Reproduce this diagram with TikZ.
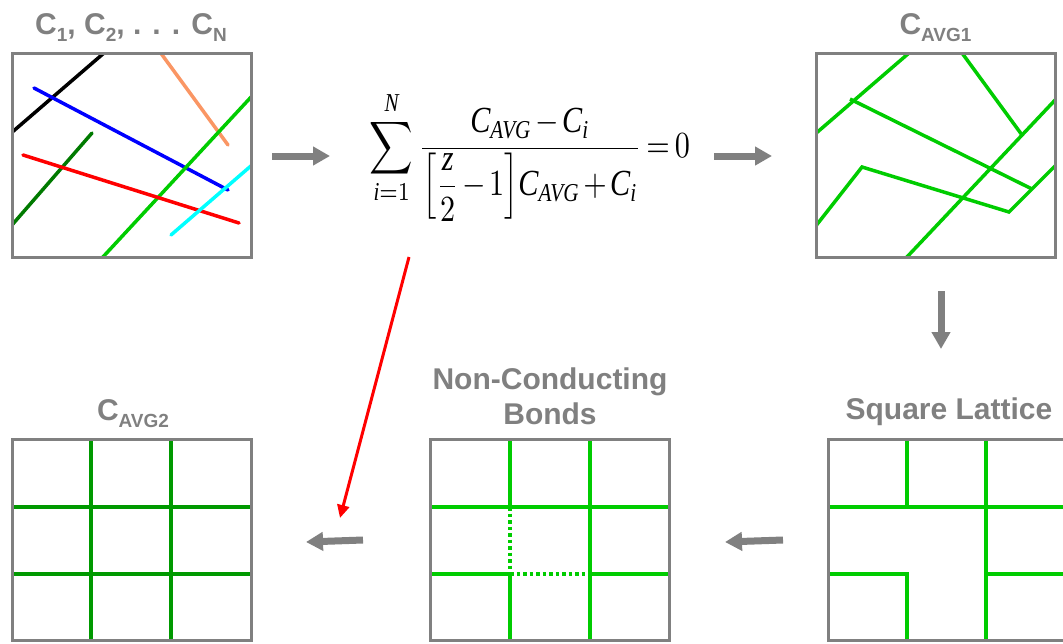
\documentclass[tikz,border=0pt]{standalone}
\usepackage{amsmath}
\usepackage{fontspec}
\setmainfont{Liberation Serif}
\newfontfamily\titlefont{Liberation Sans}
\usetikzlibrary{arrows.meta}
\definecolor{boxgray}{RGB}{128,128,128}
\definecolor{lgreen}{RGB}{0,204,0}
\definecolor{mgreen}{RGB}{0,153,0}
\definecolor{dgreen}{RGB}{0,122,0}
\definecolor{salmon}{RGB}{250,150,100}
\definecolor{cyanline}{RGB}{0,255,255}
\newcommand\tsub[1]{\raisebox{-7pt}{\fontsize{19}{19}\selectfont #1}}
\newcommand\mI[1]{\text{\itshape #1}}
\begin{document}
\begin{tikzpicture}[x=1pt,y=-1pt,
  title/.style={font=\titlefont\bfseries\fontsize{30}{34}\selectfont, text=boxgray, inner sep=0pt, anchor=base},
  frame/.style={draw=boxgray, line width=3pt, minimum width=239pt, minimum height=#1, inner sep=0pt, outer sep=0pt},
  frame/.default=204pt,
  wire/.style={line width=3.5pt},
  grayarrow/.style={draw=boxgray, line width=7pt, -{Triangle[length=17pt,width=18pt]}},
  dotbond/.style={lgreen, line width=3.5pt, dash pattern=on 3.5pt off 3pt}
]
\useasboundingbox (0,0) rectangle (1063,643);
\clip (0,0) rectangle (1063,643);

% ---------- Box 1: C1, C2, ... CN ----------
\node[title] (t1) at (131,34) {C\tsub{1}, C\tsub{2}, . . . C\tsub{N}};
\begin{scope}
  \clip (12,53) rectangle (251,257);
  \draw[wire, black] (10,134) -- (104,53);
  \draw[wire, salmon, line cap=round] (160,52) -- (228,145);
  \draw[wire, blue, line cap=round] (34,88) -- (228,190);
  \draw[wire, lgreen] (102,258) -- (252,96);
  \draw[wire, dgreen, line cap=round] (12,225) -- (92,133);
  \draw[wire, red, line cap=round] (23,155) -- (239,223);
  \draw[wire, cyanline, line cap=round] (171,235) -- (252,165);
\end{scope}
\node[frame] (b1) at (131.5,155) {};

% ---------- Formula ----------
\node[inner sep=0pt] (eq) at (530,156) {\resizebox*{320pt}{130pt}{\medmuskip=2mu\thickmuskip=3mu$\displaystyle
  \sum_{\mI{i}=1}^{\mI{N}}\frac{\mI{C}_{\mI{AVG}}-\mI{C}_{\mI{i}}}{\left[\dfrac{\mI{z}}{2}-1\right]\!\mI{C}_{\mI{AVG}}+\mI{C}_{\mI{i}}}=0$}};

% ---------- Box 2: C_AVG1 ----------
\node[title] (t2) at (935.5,34) {C\tsub{AVG1}};
\begin{scope}
  \clip (816,53) rectangle (1055,257);
  \draw[wire, lgreen] (814,135) -- (909,53);
  \draw[wire, lgreen] (850,99) -- (1032,189);
  \draw[wire, lgreen] (962,53) -- (1022,135);
  \draw[wire, lgreen] (906,258) -- (1057,98);
  \draw[wire, lgreen, line join=miter] (815,227) -- (862,167) -- (1009,212) -- (1057,164);
\end{scope}
\node[frame] (b2) at (935.5,155) {};

% ---------- Bottom left: C_AVG2 ----------
\node[title] (t3) at (133,420) {C\tsub{AVG2}};
\begin{scope}[mgreen]
  \draw[wire] (91,439) -- (91,640);
  \draw[wire] (171,439) -- (171,640);
  \draw[wire] (12,507) -- (251,507);
  \draw[wire] (12,574) -- (251,574);
\end{scope}
\node[frame=201pt] (b3) at (131.5,539.5) {};

% ---------- Bottom middle: Non-Conducting Bonds ----------
\node[title] (t4a) at (550,389) {Non-Conducting};
\node[title] (t4b) at (550,424) {Bonds};
\begin{scope}[lgreen]
  \draw[wire] (510,439) -- (510,507);
  \draw[wire] (510,574) -- (510,640);
  \draw[wire] (590,439) -- (590,640);
  \draw[wire] (431,507) -- (669,507);
  \draw[wire] (431,574) -- (510,574);
  \draw[wire] (590,574) -- (669,574);
  \draw[dotbond] (510,507) -- (510,574);
  \draw[dotbond] (510,574) -- (590,574);
\end{scope}
\node[frame=201pt] (b4) at (550,539.5) {};

% ---------- Bottom right: Square Lattice ----------
\node[title] (t5) at (949,419) {Square Lattice};
\begin{scope}[lgreen]
  \draw[wire] (907,439) -- (907,507);
  \draw[wire] (828,507) -- (1067,507);
  \draw[wire] (986,439) -- (986,640);
  \draw[wire, line join=miter] (828,574) -- (907,574) -- (907,640);
  \draw[wire] (986,574) -- (1067,574);
\end{scope}
\node[frame=201pt] (b5) at (947.5,539.5) {};

% ---------- Arrows ----------
\coordinate (a1s) at (272,156); \coordinate (a1e) at (330,156);
\coordinate (a2s) at (714,156); \coordinate (a2e) at (772,156);
\coordinate (a3s) at (941,291); \coordinate (a3e) at (941,349);
\coordinate (a4s) at (783,540); \coordinate (a4e) at (725,542);
\coordinate (a5s) at (363,540); \coordinate (a5e) at (306,542);
\coordinate (rs) at (409,257); \coordinate (re) at (340,518);
\draw[grayarrow] (a1s) -- (a1e);
\draw[grayarrow] (a2s) -- (a2e);
\draw[grayarrow] (a3s) -- (a3e);
\draw[grayarrow] (a4s) -- (a4e);
\draw[grayarrow] (a5s) -- (a5e);
\draw[red, line width=3pt, -{Triangle[length=13pt,width=12pt]}] (rs) -- (re);
\end{tikzpicture}
\end{document}
